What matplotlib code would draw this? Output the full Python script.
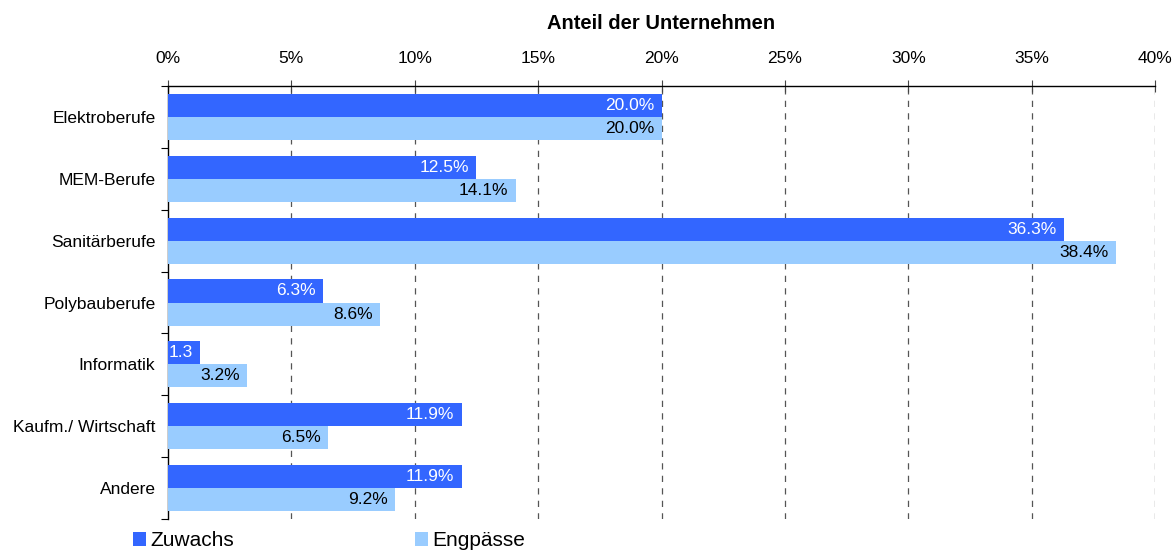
import matplotlib
matplotlib.use("Agg")
import matplotlib.pyplot as plt
from matplotlib.patches import Patch
import numpy as np

categories = ["Elektroberufe", "MEM-Berufe", "Sanitärberufe", "Polybauberufe",
              "Informatik", "Kaufm./ Wirtschaft", "Andere"]
zuwachs = [20.0, 12.5, 36.3, 6.3, 1.3, 11.9, 11.9]
engpaesse = [20.0, 14.1, 38.4, 8.6, 3.2, 6.5, 9.2]
zuwachs_labels = ["20.0%", "12.5%", "36.3%", "6.3%", "1.3", "11.9%", "11.9%"]
engpaesse_labels = ["20.0%", "14.1%", "38.4%", "8.6%", "3.2%", "6.5%", "9.2%"]
xticks = [0, 5, 10, 15, 20, 25, 30, 35, 40]
xticklabels = ["0%", "5%", "10%", "15%", "20%", "25%", "30%", "35%", "40%"]
series_names = ["Zuwachs", "Engpässe"]

c_z = "#3366FF"
c_e = "#99CCFF"

plt.rcParams['font.family'] = ['Liberation Sans', 'DejaVu Sans']
fs = 12.5

fig = plt.figure(figsize=(11.76, 5.5), dpi=100)
ax = fig.add_axes([168/1176, 1-519/550, (1155-168)/1176, (519-86)/550])

y = np.arange(len(categories))
h = 0.372
ax.barh(y - h/2, zuwachs, height=h, color=c_z, zorder=3)
ax.barh(y + h/2, engpaesse, height=h, color=c_e, zorder=3)

for i in range(len(categories)):
    ax.text(zuwachs[i] - 0.3, y[i] - h/2, zuwachs_labels[i], color="white",
            ha="right", va="center", fontsize=fs, zorder=4)
    ax.text(engpaesse[i] - 0.3, y[i] + h/2, engpaesse_labels[i], color="black",
            ha="right", va="center", fontsize=fs, zorder=4)

ax.set_xlim(0, 40)
ax.set_ylim(len(categories) - 0.5, -0.5)

ax.xaxis.tick_top()
ax.xaxis.set_label_position("top")
ax.set_xticks(xticks)
ax.set_xticklabels(xticklabels, fontsize=fs)
ax.tick_params(axis="x", direction="inout", length=9, width=0.8, color="#444444", pad=10)
ax.set_xlabel("Anteil der Unternehmen", fontsize=14.5, fontweight="bold", labelpad=16)

ax.set_yticks(y)
ax.set_yticklabels(categories, fontsize=fs)
ax.set_yticks(np.arange(-0.5, len(categories), 1.0), minor=True)
ax.tick_params(axis="y", which="major", length=0, pad=9)
ax.tick_params(axis="y", which="minor", length=5, width=0.8, direction="out")

for xv in xticks[1:]:
    ax.axvline(xv, color="#555555", linestyle=(0, (5, 5)), linewidth=0.9, zorder=1)

for s in ["right", "bottom"]:
    ax.spines[s].set_visible(False)
ax.spines["top"].set_linewidth(1.0)
ax.spines["left"].set_linewidth(1.0)

handles = [Patch(facecolor=c_z, edgecolor="none"), Patch(facecolor=c_e, edgecolor="none")]
fig.legend(handles, series_names, loc="center left", bbox_to_anchor=(133/1176, 1-541/550),
           ncol=2, frameon=False, fontsize=15, handlelength=0.63, handleheight=0.63,
           handletextpad=0.2, columnspacing=8.7, borderpad=0, borderaxespad=0)

fig.savefig("out.png", dpi=100)
